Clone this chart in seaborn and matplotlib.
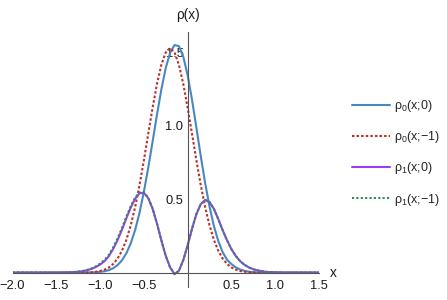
import numpy as np
import pandas as pd
import matplotlib
matplotlib.use("Agg")
import matplotlib.pyplot as plt
import seaborn as sns
from matplotlib.ticker import FixedLocator, MultipleLocator, FuncFormatter

sns.set_style("white")
plt.rcParams['font.family'] = ['Liberation Sans', 'DejaVu Sans']
plt.rcParams['mathtext.default'] = 'regular'

# ---------------- data ----------------
x = [-2.0, -1.5,
     -1.4, -1.35, -1.3, -1.25, -1.2, -1.15, -1.1, -1.05, -1.0, -0.95,
     -0.9, -0.85, -0.8, -0.75, -0.7, -0.65, -0.6, -0.55, -0.5, -0.45,
     -0.4, -0.35, -0.3, -0.25, -0.2, -0.15, -0.1, -0.05, 0.0, 0.05,
     0.1, 0.15, 0.2, 0.25, 0.3, 0.35, 0.4, 0.45, 0.5, 0.55,
     0.6, 0.65, 0.7, 0.75, 0.8, 0.85, 0.9, 0.95, 1.0, 1.05, 1.1,
     1.5]

rho0_t0 = [0.0, 0.0,
           0.0, 0.0, 0.0, 0.0, 0.0, 0.001, 0.001, 0.003, 0.005, 0.009,
           0.017, 0.030, 0.051, 0.084, 0.132, 0.199, 0.290, 0.407, 0.550, 0.715,
           0.894, 1.077, 1.249, 1.395, 1.499, 1.551, 1.544, 1.473, 1.345, 1.178,
           0.987, 0.793, 0.610, 0.450, 0.317, 0.215, 0.139, 0.088, 0.058, 0.036,
           0.021, 0.012, 0.006, 0.003, 0.001, 0.0, 0.0, 0.0, 0.0, 0.0, 0.0,
           0.0]

rho0_tm1 = [0.0, 0.0,
            0.0, 0.0, 0.0, 0.0, 0.001, 0.001, 0.003, 0.006, 0.011, 0.020,
            0.035, 0.059, 0.096, 0.149, 0.223, 0.322, 0.446, 0.596, 0.765, 0.946,
            1.124, 1.287, 1.417, 1.501, 1.530, 1.501, 1.417, 1.287, 1.124, 0.946,
            0.765, 0.596, 0.446, 0.322, 0.223, 0.149, 0.096, 0.059, 0.035, 0.020,
            0.011, 0.006, 0.003, 0.001, 0.001, 0.0, 0.0, 0.0, 0.0, 0.0, 0.0,
            0.0]

rho1_t0 = [0.0, 0.0,
           0.001, 0.002, 0.004, 0.006, 0.010, 0.016, 0.025, 0.038, 0.055, 0.078,
           0.112, 0.162, 0.222, 0.293, 0.370, 0.443, 0.504, 0.541, 0.544, 0.508,
           0.435, 0.334, 0.220, 0.114, 0.036, -0.010, 0.012, 0.085, 0.186, 0.299,
           0.399, 0.467, 0.495, 0.481, 0.434, 0.365, 0.289, 0.220, 0.160, 0.113,
           0.078, 0.053, 0.035, 0.023, 0.015, 0.009, 0.005, 0.003, 0.002, 0.001, 0.0,
           0.0]

rho1_tm1 = [0.0, 0.0,
            0.001, 0.002, 0.004, 0.007, 0.011, 0.018, 0.028, 0.042, 0.061, 0.086,
            0.121, 0.172, 0.233, 0.304, 0.380, 0.452, 0.511, 0.547, 0.548, 0.511,
            0.436, 0.334, 0.220, 0.114, 0.036, -0.010, 0.012, 0.085, 0.186, 0.299,
            0.399, 0.467, 0.495, 0.481, 0.434, 0.365, 0.289, 0.220, 0.160, 0.113,
            0.078, 0.053, 0.035, 0.023, 0.015, 0.009, 0.005, 0.003, 0.002, 0.001, 0.0,
            0.0]

series_labels = ['ρ$_0$(x;0)', 'ρ$_0$(x;\u22121)', 'ρ$_1$(x;0)', 'ρ$_1$(x;\u22121)']
x_major = [-2.0, -1.5, -1.0, -0.5, 0.5, 1.0, 1.5]
y_major = [0.5, 1.0, 1.5]

# ---------------- figure ----------------
fig = plt.figure(figsize=(4.47, 3.0), dpi=100)
ax = fig.add_axes([12.5 / 447, 1 - 287.3 / 300, 306.5 / 447, 255.3 / 300])

styles = [
    dict(color='#4a87c2', linestyle='-'),
    dict(color='#b8312f', linestyle=(0, (1.2, 1.0))),
    dict(color='#9a3ff0', linestyle='-'),
    dict(color='#2e8b57', linestyle=(0, (1.0, 1.1))),
]
for ys, lab, st in zip([rho0_t0, rho0_tm1, rho1_t0, rho1_tm1], series_labels, styles):
    df = pd.DataFrame({'x': x, 'y': ys})
    sns.lineplot(data=df, x='x', y='y', ax=ax, lw=1.5, label=lab,
                 sort=False, estimator=None, **st)

handles, labels = ax.get_legend_handles_labels()
if ax.get_legend() is not None:
    ax.get_legend().remove()

ax.set_xlim(-2.0, 1.5)
ax.set_ylim(-0.1, 1.64)
ax.set_xlabel('')
ax.set_ylabel('')

for s in ['top', 'right']:
    ax.spines[s].set_visible(False)
ax.spines['left'].set_position(('data', 0))
ax.spines['bottom'].set_position(('data', 0))
for s in ['left', 'bottom']:
    ax.spines[s].set_color('#555555')
    ax.spines[s].set_linewidth(0.8)

fmt = FuncFormatter(lambda v, p: f'{v:.1f}'.replace('-', '\u2212'))
ax.xaxis.set_major_locator(FixedLocator(x_major))
ax.xaxis.set_minor_locator(MultipleLocator(0.1))
ax.yaxis.set_major_locator(FixedLocator(y_major))
ax.yaxis.set_minor_locator(MultipleLocator(0.1))
ax.xaxis.set_major_formatter(fmt)
ax.yaxis.set_major_formatter(fmt)

ax.tick_params(which='both', direction='in', color='#555555', width=0.8,
               labelsize=9.3, labelcolor='#1a1a1a')
ax.tick_params(which='major', length=4.0)
ax.tick_params(which='minor', length=2.3)
ax.tick_params(axis='x', which='major', pad=5)
ax.tick_params(axis='y', which='major', pad=3)

fig.text(187.7 / 447, 1 - 15 / 300, 'ρ(x)', ha='center', va='center',
         fontsize=9.8, color='#1a1a1a')
fig.text(330 / 447, 1 - 273 / 300, 'x', ha='left', va='center',
         fontsize=9.8, color='#1a1a1a')

fig.legend(handles, labels, loc='upper left', bbox_to_anchor=(352 / 447, 1 - 98 / 300),
           frameon=False, fontsize=9.0, handlelength=3.0, handletextpad=0.4,
           labelspacing=1.22, borderpad=0, borderaxespad=0)

fig.savefig('out.png', dpi=100)
